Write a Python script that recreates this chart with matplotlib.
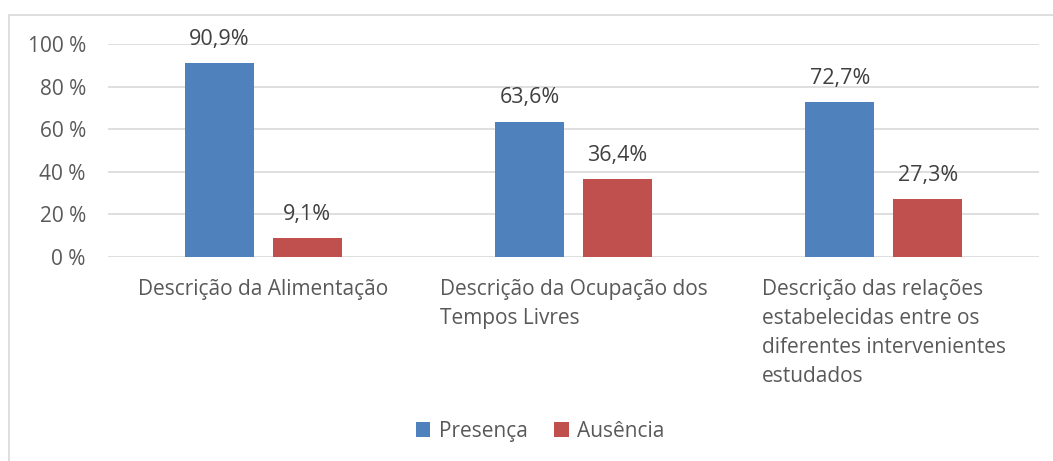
import matplotlib.pyplot as plt
from matplotlib.patches import Rectangle
import numpy as np

# dados
categorias = ['Descrição da Alimentação',
              'Descrição da Ocupação dos\nTempos Livres',
              'Descrição das relações\nestabelecidas entre os\ndiferentes intervenientes\nestudados']
presenca = [90.9, 63.6, 72.7]
ausencia = [9.1, 36.4, 27.3]
rotulos_presenca = ['90,9%', '63,6%', '72,7%']
rotulos_ausencia = ['9,1%', '36,4%', '27,3%']
yticks = [0, 20, 40, 60, 80, 100]

plt.rcParams['font.family'] = ['Open Sans', 'DejaVu Sans']
cor_texto = '#595959'
azul = '#4F81BD'
vermelho = '#C0504D'

fig = plt.figure(figsize=(10.53, 4.61), dpi=100)
fig.patches.append(Rectangle((9 / 1053, -0.5), 2, 0.5 + 446 / 461, transform=fig.transFigure,
                             fill=False, edgecolor='#d9d9d9', linewidth=1.2))

ax = fig.add_axes([0.1026, 0.4425, 0.884, 0.4621])
x = np.arange(len(categorias))
largura = 0.222
desloc = (largura + 0.061) / 2

b1 = ax.bar(x - desloc, presenca, largura, color=azul, label='Presença', zorder=3)
b2 = ax.bar(x + desloc, ausencia, largura, color=vermelho, label='Ausência', zorder=3)

for barras, rotulos in [(b1, rotulos_presenca), (b2, rotulos_ausencia)]:
    for b, r in zip(barras, rotulos):
        ax.annotate(r, (b.get_x() + b.get_width() / 2, b.get_height()),
                    xytext=(0, 13), textcoords='offset points',
                    ha='center', va='baseline', fontsize=15.5, color='#404040')

ax.set_xlim(-0.5, 2.5)
ax.set_ylim(0, 100)
ax.set_yticks(yticks)
ax.set_yticklabels([f'{v} %' for v in yticks])
ax.set_xticks(x)
ax.set_xticklabels(categorias)
for lab in ax.get_xticklabels():
    lab.set_multialignment('left')
    lab.set_linespacing(1.5)
    lab.set_verticalalignment('top')
ax.tick_params(axis='y', length=0, pad=16, labelsize=15, labelcolor=cor_texto)
ax.tick_params(axis='x', length=0, pad=16, labelsize=15, labelcolor=cor_texto)
ax.grid(axis='y', color='#d9d9d9', linewidth=1.2, zorder=0)
for s in ax.spines.values():
    s.set_visible(False)

leg = fig.legend(loc='center', bbox_to_anchor=(0.513, 0.064), ncol=2, frameon=False,
                 handlelength=0.7, handleheight=0.7, handletextpad=0.4,
                 columnspacing=1.3, fontsize=15)
for t in leg.get_texts():
    t.set_color(cor_texto)

fig.savefig('out.png', dpi=100)
